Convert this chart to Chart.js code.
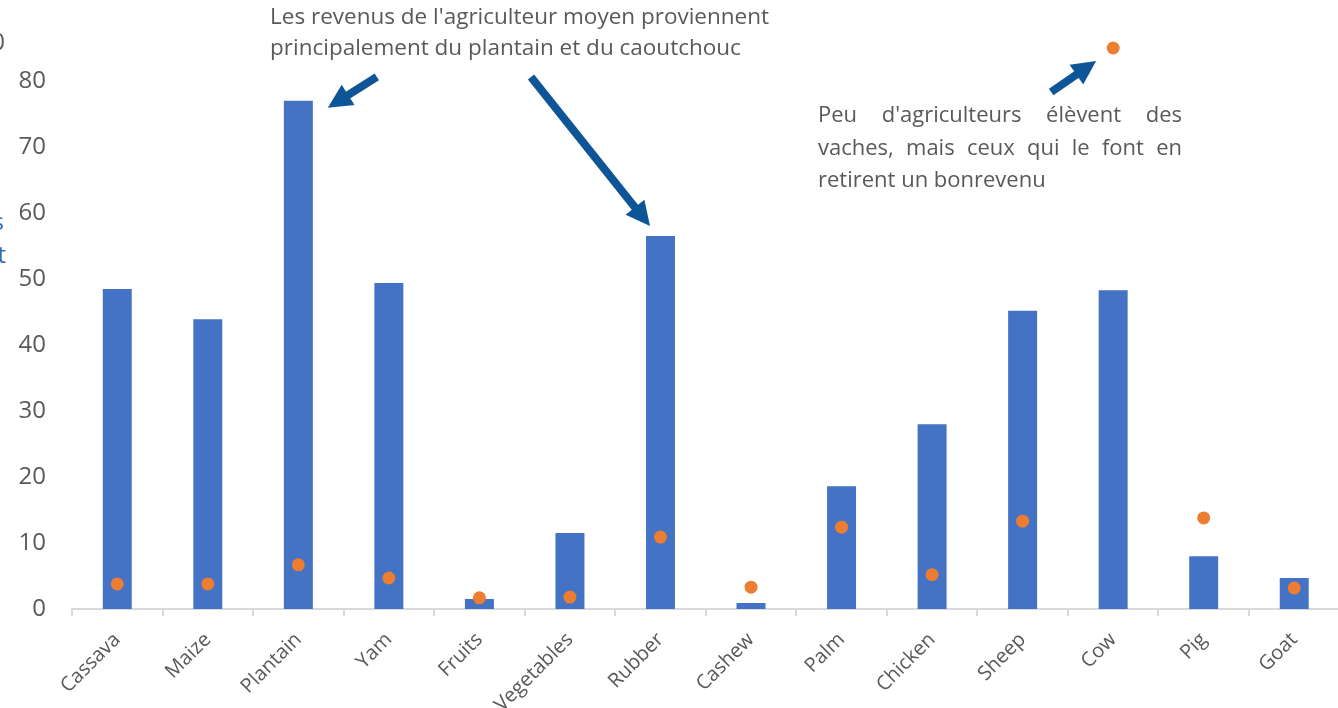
<!DOCTYPE html>
<html>
<head>
<meta charset="utf-8">
<script src="https://cdn.jsdelivr.net/npm/chart.js@4"></script>
<style>
  html, body { margin: 0; padding: 0; background: #ffffff; overflow: hidden; }
  #wrap { position: relative; width: 1346px; height: 708px; }
</style>
</head>
<body>
<div id="wrap"><canvas id="c"></canvas></div>
<script>
// ---- data ----
const categories = ['Cassava', 'Maize', 'Plantain', 'Yam', 'Fruits', 'Vegetables', 'Rubber', 'Cashew', 'Palm', 'Chicken', 'Sheep', 'Cow', 'Pig', 'Goat'];
const barValues = [48.5, 43.9, 77.0, 49.4, 1.5, 11.5, 56.5, 0.9, 18.6, 28.0, 45.2, 48.3, 8.0, 4.7];
const dotValues = [3.8, 3.8, 6.7, 4.7, 1.7, 1.8, 10.9, 3.3, 12.4, 5.2, 13.3, 85.0, 13.8, 3.2];
const yTicks = [0, 10, 20, 30, 40, 50, 60, 70, 80];
const noteTop = ["Les revenus de l'agriculteur moyen proviennent", "principalement du plantain et du caoutchouc"];
const noteRight = ["Peu d'agriculteurs élèvent des", "vaches, mais ceux qui le font en", "retirent un bonrevenu"];

const FONT = "'Open Sans', sans-serif";
const GREY = '#595959';
const ARROW = '#0E5597';

function drawArrow(ctx, x1, y1, x2, y2) {
  const ang = Math.atan2(y2 - y1, x2 - x1);
  const headLen = 24, headW = 12;
  const bx = x2 - headLen * Math.cos(ang), by = y2 - headLen * Math.sin(ang);
  ctx.save();
  ctx.strokeStyle = ARROW; ctx.fillStyle = ARROW;
  ctx.lineWidth = 8; ctx.lineCap = 'butt';
  ctx.beginPath(); ctx.moveTo(x1, y1); ctx.lineTo(bx + 2 * Math.cos(ang), by + 2 * Math.sin(ang)); ctx.stroke();
  ctx.beginPath();
  ctx.moveTo(x2, y2);
  ctx.lineTo(bx + headW * Math.sin(ang), by - headW * Math.cos(ang));
  ctx.lineTo(bx - headW * Math.sin(ang), by + headW * Math.cos(ang));
  ctx.closePath(); ctx.fill();
  ctx.restore();
}

function drawJustified(ctx, lines, left, right, y0, lh) {
  lines.forEach((line, i) => {
    const y = y0 + i * lh;
    if (i === lines.length - 1) { ctx.textAlign = 'left'; ctx.fillText(line, left, y); return; }
    const words = line.split(' ');
    const wsum = words.reduce((s, w) => s + ctx.measureText(w).width, 0);
    const gap = (right - left - wsum) / (words.length - 1);
    let x = left;
    ctx.textAlign = 'left';
    words.forEach(w => { ctx.fillText(w, x, y); x += ctx.measureText(w).width + gap; });
  });
}

const annotations = {
  id: 'annotations',
  afterDraw(chart) {
    const ctx = chart.ctx;
    const bars = chart.getDatasetMeta(0).data;
    const dots = chart.getDatasetMeta(1).data;
    ctx.save();
    ctx.fillStyle = GREY;
    ctx.font = '22.5px ' + FONT;
    ctx.textBaseline = 'middle';
    ctx.textAlign = 'left';
    noteTop.forEach((t, i) => ctx.fillText(t, 270, 18 + i * 31));
    ctx.font = '22px ' + FONT;
    drawJustified(ctx, noteRight, 818, 1182, 116, 32.5);
    // cropped outer axis fragments at the left edge
    ctx.font = '24px ' + FONT;
    ctx.textAlign = 'right';
    ctx.fillText('0', 5, 43);
    ctx.fillStyle = '#2E6DB4';
    ctx.textBaseline = 'alphabetic';
    ctx.fillText('s', 4, 230);
    ctx.fillText('t', 6, 263);
    ctx.restore();
    // arrows anchored to marks
    const pl = bars[2], rb = bars[6], cw = dots[11];
    drawArrow(ctx, pl.x + pl.width / 2 + 64, pl.y - 24, pl.x + pl.width / 2 + 15, pl.y + 7);
    drawArrow(ctx, rb.x - rb.width / 2 - 115, rb.y - 159, rb.x - rb.width / 2 + 4, rb.y - 10);
    drawArrow(ctx, cw.x - 62, cw.y + 44, cw.x - 17, cw.y + 13);
  }
};

new Chart(document.getElementById('c'), {
  data: {
    labels: categories,
    datasets: [
      { type: 'bar', data: barValues, backgroundColor: '#4472C4', categoryPercentage: 1, barPercentage: 0.32, order: 2 },
      { type: 'line', data: dotValues, showLine: false, pointRadius: 6.5, pointHoverRadius: 6.5,
        pointBackgroundColor: '#ED7D31', pointBorderColor: '#ED7D31', pointBorderWidth: 0, clip: false, order: 1 }
    ]
  },
  options: {
    responsive: true, maintainAspectRatio: false, animation: false,
    layout: { padding: { top: 15, left: 0, right: 0, bottom: 0 } },
    plugins: { legend: { display: false }, tooltip: { enabled: false } },
    scales: {
      x: {
        grid: { display: true, drawOnChartArea: false, drawTicks: true, tickLength: 7, color: '#D9D9D9', lineWidth: 2, offset: true },
        border: { display: true, color: '#D9D9D9', width: 2 },
        ticks: { color: GREY, font: { family: FONT, size: 20 }, minRotation: 45, maxRotation: 45, padding: 12 },
        afterFit(s) { s.height = 99; s.paddingLeft = 0; s.paddingRight = 0; }
      },
      y: {
        min: 0, max: 90,
        grid: { display: false, drawTicks: false },
        border: { display: false },
        afterBuildTicks(s) { s.ticks = yTicks.map(v => ({ value: v })); },
        ticks: { color: GREY, font: { family: FONT, size: 24 }, padding: 26 },
        afterFit(s) { s.width = 72; s.paddingTop = 0; s.paddingBottom = 0; }
      }
    }
  },
  plugins: [annotations]
});
</script>
</body>
</html>
